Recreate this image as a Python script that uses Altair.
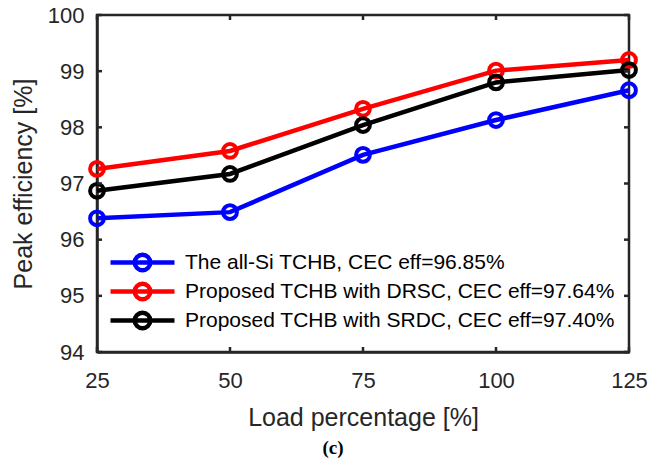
import altair as alt
import pandas as pd

load = [25, 50, 75, 100, 125]
series_names = [
    "The all-Si TCHB, CEC eff=96.85%",
    "Proposed TCHB with DRSC, CEC eff=97.64%",
    "Proposed TCHB with SRDC, CEC eff=97.40%",
]
eff_si = [96.38, 96.49, 97.51, 98.13, 98.66]
eff_drsc = [97.26, 97.58, 98.33, 99.01, 99.20]
eff_srdc = [96.87, 97.17, 98.04, 98.80, 99.02]
colors = ["#0000FF", "#FF0000", "#000000"]
x_ticks = [25, 50, 75, 100, 125]
y_ticks = [94, 95, 96, 97, 98, 99, 100]

rows = []
for name, vals in zip(series_names, [eff_si, eff_drsc, eff_srdc]):
    for xv, yv in zip(load, vals):
        rows.append({"series": name, "load": xv, "eff": yv})
df = pd.DataFrame(rows)

W, H = 532, 337
FONT = "Liberation Sans"
AX = "#262626"

xscale = alt.Scale(domain=[25, 125], nice=False, zero=False)
yscale = alt.Scale(domain=[94, 100], nice=False, zero=False)

legend = alt.Legend(
    orient="none",
    legendX=35,
    legendY=237,
    padding=0,
    symbolType="M-4.13,0L-1,0M1,0L4.13,0M1,0A1,1,0,1,1,-1,0A1,1,0,1,1,1,0M-1,0L1,0",
    symbolSize=240,
    symbolStrokeWidth=4.5,
    symbolFillColor="transparent",
    symbolOpacity=1,
    labelFont=FONT,
    labelFontSize=21,
    labelColor="#000000",
    labelOffset=32,
    labelLimit=0,
    rowPadding=-6,
)

color = alt.Color(
    "series:N",
    scale=alt.Scale(domain=series_names, range=colors),
    legend=legend,
    title=None,
    sort=series_names,
)

xaxis = alt.Axis(
    values=x_ticks,
    title="Load percentage [%]",
    ticks=False,
    grid=False,
    domainColor=AX,
    domainWidth=2.5,
    labelFont=FONT,
    labelFontSize=22,
    labelColor=AX,
    labelPadding=18,
    labelFlush=False,
    titleFont=FONT,
    titleFontSize=25,
    titleFontWeight="normal",
    titleColor=AX,
    titlePadding=14,
)
yaxis = alt.Axis(
    values=y_ticks,
    title="Peak efficiency [%]",
    ticks=False,
    grid=False,
    domainColor=AX,
    domainWidth=2.5,
    labelFont=FONT,
    labelFontSize=22,
    labelColor=AX,
    labelPadding=13,
    labelFlush=False,
    titleFont=FONT,
    titleFontSize=25,
    titleFontWeight="normal",
    titleColor=AX,
    titlePadding=11,
)

xenc = alt.X("load:Q", scale=xscale, axis=xaxis)
yenc = alt.Y("eff:Q", scale=yscale, axis=yaxis)

lines = alt.Chart(df).mark_line(strokeWidth=4.5).encode(
    x=xenc, y=yenc, color=color, detail="series:N"
)
points = alt.Chart(df).mark_point(
    shape="circle", filled=False, size=190, strokeWidth=4, opacity=1
).encode(x=xenc, y=yenc, color=color)

xt = pd.DataFrame({"t": x_ticks})
yt = pd.DataFrame({"t": y_ticks})
tx = alt.X("t:Q", scale=xscale, axis=xaxis)
ty = alt.Y("t:Q", scale=yscale, axis=yaxis)
tick_style = dict(color=AX, strokeWidth=2.5)
xt_bottom = alt.Chart(xt).mark_rule(**tick_style).encode(x=tx, y=alt.value(H), y2=alt.value(H - 5))
xt_top = alt.Chart(xt).mark_rule(**tick_style).encode(x=tx, y=alt.value(0), y2=alt.value(5))
yt_left = alt.Chart(yt).mark_rule(**tick_style).encode(y=ty, x=alt.value(0), x2=alt.value(5))
yt_right = alt.Chart(yt).mark_rule(**tick_style).encode(y=ty, x=alt.value(W), x2=alt.value(W - 5))

chart = (
    alt.layer(lines, points, xt_bottom, xt_top, yt_left, yt_right)
    .properties(
        width=W,
        height=H,
        background="white",
        padding={"left": 97, "top": 15, "right": 34, "bottom": 109},
        autosize=alt.AutoSizeParams(type="none"),
        title=alt.TitleParams(
            text="(c)",
            orient="bottom",
            font="Liberation Serif",
            fontSize=19,
            fontWeight="bold",
            color="#000000",
            anchor="middle",
            dx=-30,
            offset=9,
        ),
    )
    .configure_view(stroke=AX, strokeWidth=2.5)
)

chart.save("out.html", embed_options={"renderer": "svg", "actions": False})
